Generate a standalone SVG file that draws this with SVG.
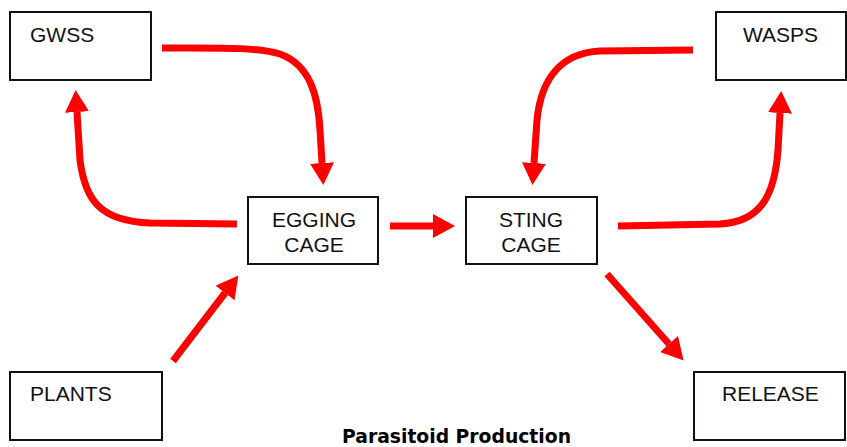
<svg xmlns="http://www.w3.org/2000/svg" width="847" height="447" viewBox="0 0 847 447">
<style>
.box{fill:#fff;stroke:#101018;stroke-width:2}
.lbl{font-family:"Liberation Sans",Arial,sans-serif;font-size:21px;fill:#111}
.arr{fill:none;stroke:#ff0000;stroke-width:7}
.title{font-family:"DejaVu Sans",Verdana,sans-serif;font-weight:bold;font-size:19.5px;fill:#000}
</style>
<defs>
<marker id="head" markerUnits="userSpaceOnUse" markerWidth="22" markerHeight="24" viewBox="0 0 22 24" refX="0" refY="12" orient="auto">
<path d="M0,0 L22,12 L0,24 Z" fill="#ff0000"/>
</marker>
</defs>
<g id="connectors">
<path class="arr" marker-end="url(#head)" d="M162,48 C220,48 258,47 280,54 C310,65 318,95 320,130 L322,163"/>
<path class="arr" marker-end="url(#head)" d="M237,224 L150,223 C100,221 85,200 80,160 L77,112"/>
<path class="arr" marker-end="url(#head)" d="M693,50 L600,51 C560,53 541,80 537,120 L534,163"/>
<path class="arr" marker-end="url(#head)" d="M618,226 L720,224 C764,222 775,190 778,150 L780,113"/>
<path class="arr" marker-end="url(#head)" d="M390,226 L433,226"/>
<path class="arr" marker-end="url(#head)" d="M173,361 L225,293"/>
<path class="arr" marker-end="url(#head)" d="M607,274 L669,344"/>
</g>
<g id="gwss"><rect class="box" x="10" y="12" width="141" height="68"/><text class="lbl" x="30" y="42">GWSS</text></g>
<g id="wasps"><rect class="box" x="716" y="12" width="130" height="68"/><text class="lbl" x="743" y="42">WASPS</text></g>
<g id="egging"><rect class="box" x="248" y="197" width="130" height="67"/><text class="lbl" text-anchor="middle" x="314" y="227">EGGING</text><text class="lbl" text-anchor="middle" x="314" y="252">CAGE</text></g>
<g id="sting"><rect class="box" x="466" y="197" width="131" height="67"/><text class="lbl" text-anchor="middle" x="531" y="227">STING</text><text class="lbl" text-anchor="middle" x="531" y="252">CAGE</text></g>
<g id="plants"><rect class="box" x="10" y="372" width="152" height="68"/><text class="lbl" x="30" y="401">PLANTS</text></g>
<g id="release"><rect class="box" x="694" y="372" width="151" height="68"/><text class="lbl" x="722" y="401">RELEASE</text></g>
<text class="title" x="342" y="443" textLength="229" lengthAdjust="spacingAndGlyphs">Parasitoid Production</text>
</svg>
